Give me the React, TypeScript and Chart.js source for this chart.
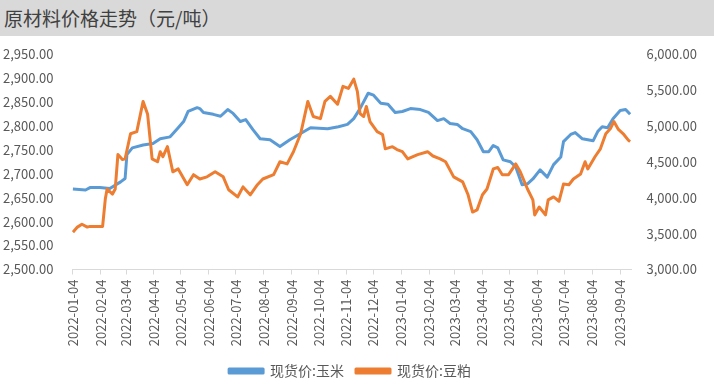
import React, { useEffect, useRef } from "react";
import { Chart, registerables } from "chart.js";

Chart.register(...registerables);

const TITLE = "原材料价格走势（元/吨）";
const CORN_LABEL = "现货价:玉米";
const MEAL_LABEL = "现货价:豆粕";

const tickDates = [
  "2022-01-04", "2022-02-04", "2022-03-04", "2022-04-04", "2022-05-04", "2022-06-04",
  "2022-07-04", "2022-08-04", "2022-09-04", "2022-10-04", "2022-11-04", "2022-12-04",
  "2023-01-04", "2023-02-04", "2023-03-04", "2023-04-04", "2023-05-04", "2023-06-04",
  "2023-07-04", "2023-08-04", "2023-09-04",
];

const cornDates = [
  "2022-01-04", "2022-01-18", "2022-01-23", "2022-02-03", "2022-02-14", "2022-02-26",
  "2022-03-03", "2022-03-05", "2022-03-11", "2022-03-23", "2022-04-03", "2022-04-11",
  "2022-04-22", "2022-04-30", "2022-05-07", "2022-05-12", "2022-05-22", "2022-05-25",
  "2022-05-29", "2022-06-09", "2022-06-17", "2022-06-25", "2022-07-01", "2022-07-09",
  "2022-07-15", "2022-07-23", "2022-07-31", "2022-08-11", "2022-08-22", "2022-09-02",
  "2022-09-14", "2022-09-25", "2022-10-14", "2022-10-26", "2022-11-05", "2022-11-12",
  "2022-11-19", "2022-11-28", "2022-12-04", "2022-12-12", "2022-12-20", "2022-12-28",
  "2023-01-05", "2023-01-14", "2023-01-25", "2023-02-03", "2023-02-13", "2023-02-20",
  "2023-02-27", "2023-03-07", "2023-03-13", "2023-03-22", "2023-03-29", "2023-04-05",
  "2023-04-11", "2023-04-16", "2023-04-21", "2023-04-27", "2023-05-05", "2023-05-11",
  "2023-05-18", "2023-05-24", "2023-05-30", "2023-06-07", "2023-06-15", "2023-06-22",
  "2023-06-30", "2023-07-03", "2023-07-11", "2023-07-16", "2023-07-24", "2023-08-05",
  "2023-08-10", "2023-08-15", "2023-08-21", "2023-08-27", "2023-09-04", "2023-09-10",
  "2023-09-15",
];
const cornValues = [
  2668, 2666, 2671, 2671, 2669, 2683,
  2690, 2740, 2754, 2760, 2763, 2773,
  2777, 2794, 2809, 2830, 2838, 2836,
  2828, 2824, 2820, 2834, 2826, 2809,
  2813, 2792, 2773, 2771, 2757, 2771,
  2784, 2796, 2794, 2798, 2803, 2815,
  2836, 2868, 2864, 2847, 2845, 2828,
  2830, 2836, 2834, 2828, 2811, 2815,
  2805, 2803, 2794, 2788, 2771, 2746,
  2746, 2759, 2754, 2729, 2725, 2714,
  2677, 2679, 2689, 2708, 2693, 2719,
  2735, 2767, 2782, 2786, 2773, 2769,
  2788, 2798, 2796, 2815, 2832, 2834,
  2824,
];

const mealDates = [
  "2022-01-04", "2022-01-09", "2022-01-14", "2022-01-20", "2022-01-23", "2022-02-06",
  "2022-02-09", "2022-02-11", "2022-02-17", "2022-02-20", "2022-02-23", "2022-02-28",
  "2022-03-03", "2022-03-09", "2022-03-16", "2022-03-23", "2022-03-28", "2022-04-02",
  "2022-04-08", "2022-04-11", "2022-04-14", "2022-04-19", "2022-04-25", "2022-05-01",
  "2022-05-11", "2022-05-18", "2022-05-25", "2022-06-02", "2022-06-11", "2022-06-20",
  "2022-06-26", "2022-07-06", "2022-07-12", "2022-07-20", "2022-07-28", "2022-08-03",
  "2022-08-15", "2022-08-22", "2022-08-30", "2022-09-06", "2022-09-14", "2022-09-22",
  "2022-09-28", "2022-10-06", "2022-10-11", "2022-10-17", "2022-10-25", "2022-10-31",
  "2022-11-06", "2022-11-12", "2022-11-16", "2022-11-19", "2022-11-23", "2022-11-26",
  "2022-11-30", "2022-12-08", "2022-12-14", "2022-12-17", "2022-12-25", "2022-12-30",
  "2023-01-05", "2023-01-11", "2023-01-22", "2023-02-02", "2023-02-08", "2023-02-16",
  "2023-02-22", "2023-03-03", "2023-03-13", "2023-03-19", "2023-03-24", "2023-03-29",
  "2023-04-04", "2023-04-09", "2023-04-16", "2023-04-21", "2023-04-26", "2023-05-03",
  "2023-05-11", "2023-05-16", "2023-05-24", "2023-05-30", "2023-06-01", "2023-06-06",
  "2023-06-13", "2023-06-16", "2023-06-22", "2023-06-28", "2023-07-03", "2023-07-09",
  "2023-07-14", "2023-07-22", "2023-07-27", "2023-07-30", "2023-08-07", "2023-08-13",
  "2023-08-19", "2023-08-24", "2023-08-28", "2023-09-02", "2023-09-08", "2023-09-13",
  "2023-09-15",
];
const mealValues = [
  3520, 3590, 3630, 3590, 3600, 3600,
  3980, 4120, 4050, 4120, 4600, 4530,
  4540, 4890, 4920, 5340, 5160, 4540,
  4500, 4640, 4570, 4710, 4360, 4400,
  4180, 4320, 4260, 4290, 4360, 4290,
  4110, 4010, 4150, 4040, 4180, 4260,
  4320, 4500, 4470, 4640, 4890, 5340,
  5130, 5100, 5340, 5410, 5300, 5550,
  5520, 5650, 5480, 5170, 5130, 5270,
  5060, 4920, 4880, 4680, 4710, 4670,
  4640, 4540, 4600, 4640, 4580, 4540,
  4500, 4290, 4220, 4040, 3800, 3830,
  4040, 4120, 4400, 4420, 4320, 4320,
  4470, 4360, 4120, 3970, 3760, 3870,
  3760, 3970, 4010, 3950, 4190, 4180,
  4260, 4330, 4500, 4400, 4570, 4680,
  4890, 4960, 5060, 4950, 4880, 4800,
  4780,
];

const BASE = Date.UTC(2022, 0, 4);
const toDay = (s: string) => {
  const [y, m, d] = s.split("-").map(Number);
  return Math.round((Date.UTC(y, m - 1, d) - BASE) / 86400000);
};

const FONT = '"Noto Sans CJK SC", "Noto Sans", sans-serif';
const fmt = (v: number) =>
  Number(v).toLocaleString("en-US", { minimumFractionDigits: 2, maximumFractionDigits: 2 });

export default function App() {
  const ref = useRef<HTMLCanvasElement | null>(null);

  useEffect(() => {
    document.body.style.margin = "0";
    const tickDays = tickDates.map(toDay);
    const chart = new Chart(ref.current as HTMLCanvasElement, {
      type: "line",
      data: {
        datasets: [
          {
            label: CORN_LABEL,
            data: cornDates.map((d, i) => ({ x: toDay(d), y: cornValues[i] })),
            borderColor: "#5b9bd5",
            backgroundColor: "#5b9bd5",
            borderWidth: 3,
            pointRadius: 0,
            tension: 0,
            borderJoinStyle: "round",
            yAxisID: "y",
            order: 1,
          },
          {
            label: MEAL_LABEL,
            data: mealDates.map((d, i) => ({ x: toDay(d), y: mealValues[i] })),
            borderColor: "#ed7d31",
            backgroundColor: "#ed7d31",
            borderWidth: 3,
            pointRadius: 0,
            tension: 0,
            borderJoinStyle: "round",
            yAxisID: "y1",
            order: 0,
          },
        ],
      },
      options: {
        animation: false,
        responsive: false,
        maintainAspectRatio: false,
        layout: { padding: { top: 18, bottom: -4, left: 3, right: 17 } },
        plugins: {
          tooltip: { enabled: false },
          title: { display: false },
          legend: {
            position: "bottom",
            labels: {
              boxWidth: 34,
              boxHeight: 4,
              padding: 12,
              color: "#595959",
              font: { family: FONT, size: 14 },
              sort: (a: any, b: any) => a.datasetIndex - b.datasetIndex,
            },
          },
        },
        scales: {
          x: {
            type: "linear",
            min: -1,
            max: 620,
            afterBuildTicks: (scale: any) => {
              scale.ticks = tickDays.map((v) => ({ value: v }));
            },
            afterFit: (scale: any) => {
              scale.height = 82.5;
            },
            ticks: {
              autoSkip: false,
              minRotation: 90,
              maxRotation: 90,
              padding: 5,
              color: "#595959",
              font: { family: FONT, size: 13 },
              callback: (v: any) => {
                const idx = tickDays.indexOf(Number(v));
                return idx >= 0 ? tickDates[idx] : "";
              },
            },
            grid: {
              display: true,
              drawOnChartArea: false,
              drawTicks: true,
              tickLength: 5,
              color: "#d9d9d9",
            },
            border: { display: true, color: "#d9d9d9", width: 1 },
          },
          y: {
            type: "linear",
            position: "left",
            min: 2500,
            max: 2950,
            afterFit: (scale: any) => {
              scale.width = 69;
            },
            ticks: {
              stepSize: 50,
              padding: 0,
              crossAlign: "far",
              color: "#595959",
              font: { family: FONT, size: 13 },
              callback: (v: any) => fmt(v),
            },
            grid: { display: false, drawTicks: false },
            border: { display: false },
          },
          y1: {
            type: "linear",
            position: "right",
            min: 3000,
            max: 6000,
            afterFit: (scale: any) => {
              scale.width = 66;
            },
            ticks: {
              stepSize: 500,
              padding: 0,
              crossAlign: "far",
              color: "#595959",
              font: { family: FONT, size: 13 },
              callback: (v: any) => fmt(v),
            },
            grid: { display: false, drawTicks: false },
            border: { display: false },
          },
        },
      },
    });
    return () => chart.destroy();
  }, []);

  return (
    <div style={{ width: 714, height: 384, background: "#ffffff", overflow: "hidden" }}>
      <div
        style={{
          height: 36,
          background: "#d9d9d9",
          color: "#404040",
          fontFamily: FONT,
          fontSize: 19,
          lineHeight: "36px",
          paddingLeft: 4,
          whiteSpace: "nowrap",
        }}
      >
        {TITLE}
      </div>
      <canvas ref={ref} width={714} height={348} style={{ display: "block", width: 714, height: 348 }} />
    </div>
  );
}
